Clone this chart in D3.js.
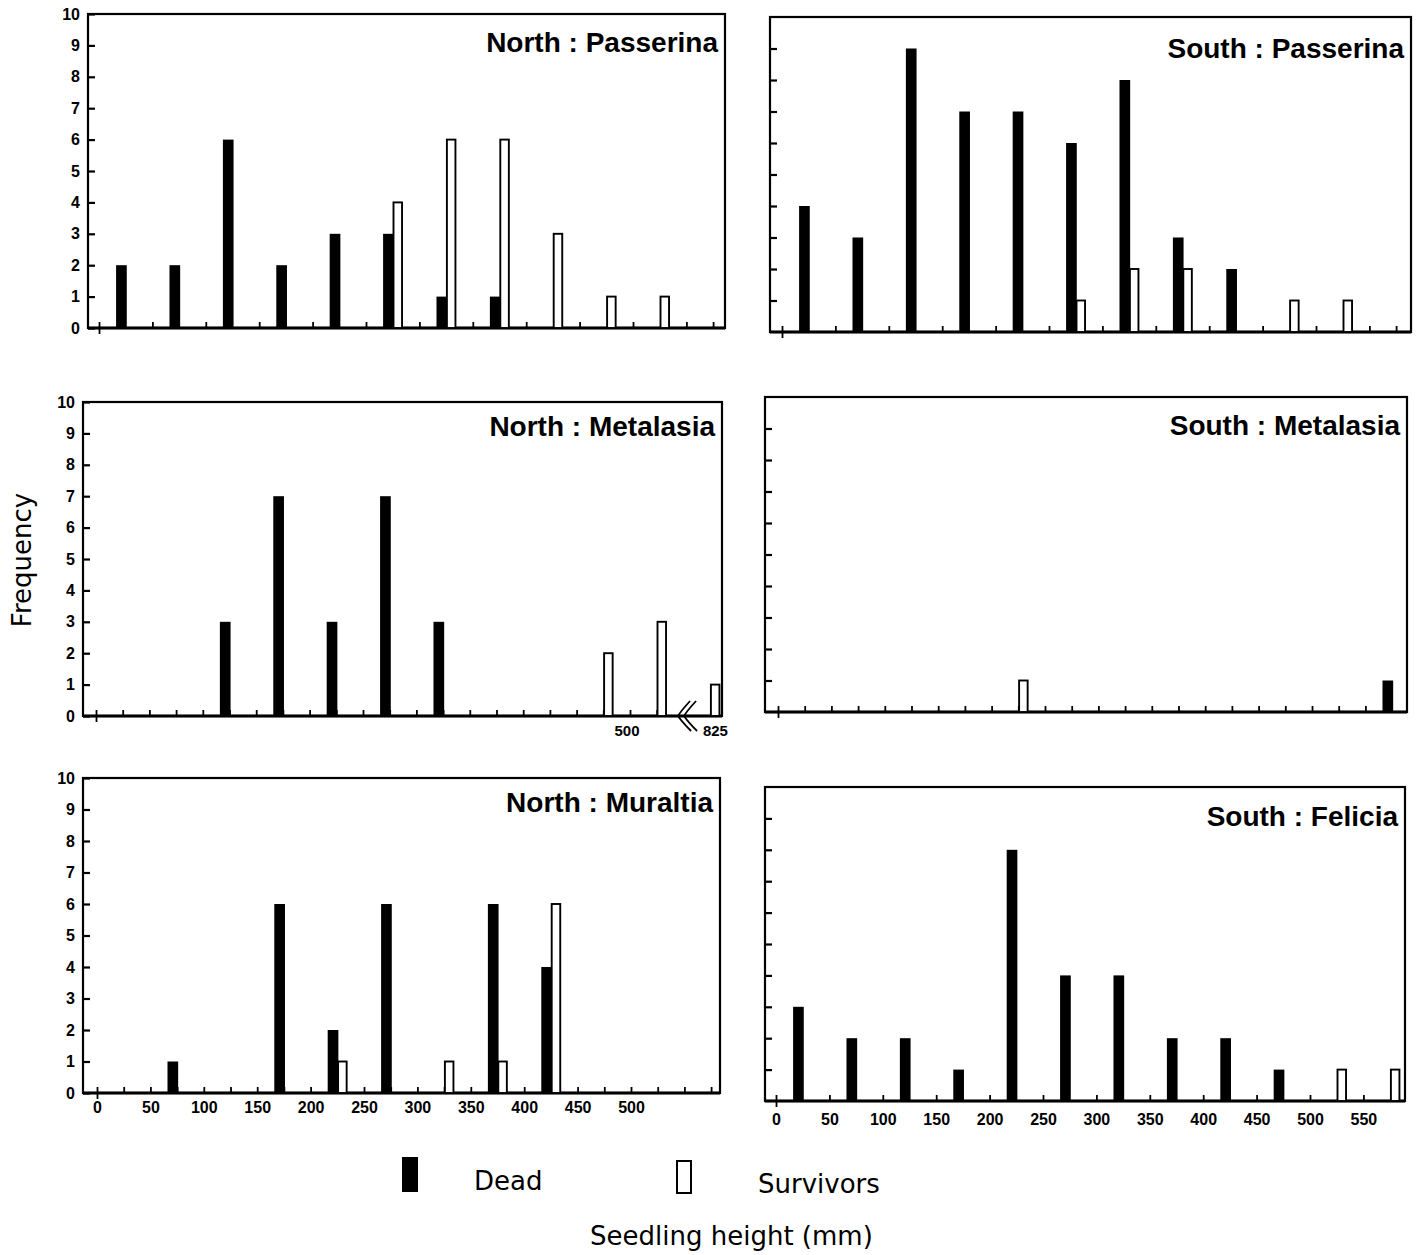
<!DOCTYPE html>
<html>
<head>
<meta charset="utf-8">
<script src="https://cdn.jsdelivr.net/npm/d3@7"></script>
<style>
  body { margin: 0; background: #fff; }
  svg { display: block; }
</style>
</head>
<body>
<svg id="chart" width="1417" height="1255"></svg>
<script>
////////// Data: frequency per 50 mm height class //////////
// class start (mm); in North : Metalasia the last class stands for the 825 mm outlier
const binStarts = [0, 50, 100, 150, 200, 250, 300, 350, 400, 450, 500, 550];
const yTicks = [0, 1, 2, 3, 4, 5, 6, 7, 8, 9, 10];

const titles = ["North : Passerina", "South : Passerina",
                "North : Metalasia", "South : Metalasia",
                "North : Muraltia",  "South : Felicia"];

const deadNorthPasserina = [2, 2, 6, 2, 3, 3, 1, 1, 0, 0, 0, 0];
const survNorthPasserina = [0, 0, 0, 0, 0, 4, 6, 6, 3, 1, 1, 0];

const deadSouthPasserina = [4, 3, 9, 7, 7, 6, 8, 3, 2, 0, 0, 0];
const survSouthPasserina = [0, 0, 0, 0, 0, 1, 2, 2, 0, 1, 1, 0];

const deadNorthMetalasia = [0, 0, 3, 7, 3, 7, 3, 0, 0, 0, 0, 0];
const survNorthMetalasia = [0, 0, 0, 0, 0, 0, 0, 0, 0, 2, 3, 1];

const deadSouthMetalasia = [0, 0, 0, 0, 0, 0, 0, 0, 0, 0, 0, 1];
const survSouthMetalasia = [0, 0, 0, 0, 1, 0, 0, 0, 0, 0, 0, 0];

const deadNorthMuraltia = [0, 1, 0, 6, 2, 6, 0, 6, 4, 0, 0, 0];
const survNorthMuraltia = [0, 0, 0, 0, 1, 0, 1, 1, 6, 0, 0, 0];

const deadSouthFelicia = [3, 2, 2, 1, 8, 4, 4, 2, 2, 1, 0, 0];
const survSouthFelicia = [0, 0, 0, 0, 0, 0, 0, 0, 0, 0, 1, 1];

const xLabelsMuraltia = [0, 50, 100, 150, 200, 250, 300, 350, 400, 450, 500];
const xLabelsFelicia  = [0, 50, 100, 150, 200, 250, 300, 350, 400, 450, 500, 550];
const outlierLabel = "825";

const legendLabels = ["Dead", "Survivors"];
const xTitle = "Seedling height (mm)";
const yTitle = "Frequency";

////////// Layout (pixels) //////////
const panels = [
  { title: titles[0], dead: deadNorthPasserina, surv: survNorthPasserina, left: 88,  top: 14,  right: 725,  base: 328,  x0: 99,  titleY: 52,  labels: true,
    xticks: d3.range(0, 551, 50).concat([575]) },
  { title: titles[1], dead: deadSouthPasserina, surv: survSouthPasserina, left: 770, top: 17,  right: 1411, base: 332,  x0: 782, titleY: 58,  labels: false,
    xticks: d3.range(0, 551, 50).concat([575]) },
  { title: titles[2], dead: deadNorthMetalasia, surv: survNorthMetalasia, left: 83,  top: 402, right: 722,  base: 716,  x0: 96,  titleY: 436, labels: true,
    xticks: d3.range(0, 526, 25), breakAxis: true },
  { title: titles[3], dead: deadSouthMetalasia, surv: survSouthMetalasia, left: 765, top: 397, right: 1407, base: 712,  x0: 778, titleY: 435, labels: false,
    xticks: d3.range(0, 551, 25) },
  { title: titles[4], dead: deadNorthMuraltia,  surv: survNorthMuraltia,  left: 83,  top: 778, right: 720,  base: 1093, x0: 97,  titleY: 812, labels: true,
    xticks: d3.range(0, 576, 25), xlabels: xLabelsMuraltia, pad: 9 },
  { title: titles[5], dead: deadSouthFelicia,   surv: survSouthFelicia,   left: 765, top: 787, right: 1405, base: 1101, x0: 776, titleY: 826, labels: false,
    xticks: d3.range(0, 551, 50), xlabels: xLabelsFelicia, pad: 13 }
];

const BIN_PX = 53.4;
const tickFont = "'Liberation Sans', Arial, sans-serif";
const textFont = "'DejaVu Sans', sans-serif";

const svg = d3.select("#chart");

panels.forEach(p => {
  const g = svg.append("g");

  const x = d3.scaleLinear().domain([0, 600]).range([p.x0, p.x0 + 12 * BIN_PX]);
  const y = d3.scaleLinear().domain([0, 10]).range([p.base, p.top]);
  const bw = x(50) - x(0);

  // y axis, ticks pointing inward
  const yAxis = d3.axisLeft(y)
    .tickValues(p.labels ? yTicks : yTicks.slice(1, 10))
    .tickSizeInner(-7).tickSizeOuter(0).tickPadding(8)
    .tickFormat(p.labels ? d3.format("d") : () => "");
  const ya = g.append("g").attr("transform", `translate(${p.left},0)`).call(yAxis);
  ya.select(".domain").remove();
  ya.selectAll("line").attr("stroke", "#000").attr("stroke-width", 2.2);
  ya.selectAll("text").attr("font-family", tickFont).attr("font-weight", "bold")
    .attr("font-size", 16).attr("fill", "#000");

  // x axis, ticks pointing inward
  const xAxis = d3.axisBottom(x)
    .tickValues(p.xticks)
    .tickSizeInner(-6).tickSizeOuter(0).tickPadding(p.pad || 8)
    .tickFormat(d => (p.xlabels && p.xlabels.includes(d)) ? d : "");
  const xa = g.append("g").attr("transform", `translate(0,${p.base})`).call(xAxis);
  xa.select(".domain").remove();
  xa.selectAll("line").attr("stroke", "#000").attr("stroke-width", 1.8);
  xa.selectAll(".tick").filter(d => d === 0).select("line").attr("y1", 6);
  xa.selectAll("text").attr("font-family", tickFont).attr("font-weight", "bold")
    .attr("font-size", 16).attr("fill", "#000");

  // frame
  g.append("rect")
    .attr("x", p.left).attr("y", p.top)
    .attr("width", p.right - p.left).attr("height", p.base - p.top)
    .attr("fill", "none").attr("stroke", "#000").attr("stroke-width", 2.2);
  g.append("line")
    .attr("x1", p.left).attr("x2", p.right)
    .attr("y1", p.base).attr("y2", p.base)
    .attr("stroke", "#000").attr("stroke-width", 2.8);

  // dead bars (filled)
  g.append("g").selectAll("rect")
    .data(binStarts.map((b, i) => ({ b, v: p.dead[i] })).filter(d => d.v > 0))
    .join("rect")
    .attr("x", d => x(d.b) + 0.32 * bw)
    .attr("width", 0.2 * bw)
    .attr("y", d => y(d.v))
    .attr("height", d => p.base - y(d.v))
    .attr("fill", "#000");

  // survivor bars (open)
  g.append("g").selectAll("rect")
    .data(binStarts.map((b, i) => ({ b, v: p.surv[i] })).filter(d => d.v > 0))
    .join("rect")
    .attr("x", d => x(d.b) + 0.515 * bw)
    .attr("width", 0.16 * bw)
    .attr("y", d => y(d.v))
    .attr("height", d => p.base - y(d.v))
    .attr("fill", "#fff").attr("stroke", "#000").attr("stroke-width", 1.9);

  // title
  g.append("text")
    .attr("x", p.right - 7).attr("y", p.titleY)
    .attr("text-anchor", "end")
    .attr("font-family", tickFont).attr("font-weight", "bold").attr("font-size", 28)
    .text(p.title);

  // axis break and the 500 / 825 labels
  if (p.breakAxis) {
    const bx = x(545);
    g.append("path")
      .attr("d", `M${bx + 12},${p.base - 15} Q${bx + 2},${p.base - 4} ${bx},${p.base} Q${bx + 4},${p.base + 6} ${bx + 13},${p.base + 15}` +
                 `M${bx + 18},${p.base - 15} Q${bx + 8},${p.base - 4} ${bx + 6},${p.base} Q${bx + 10},${p.base + 6} ${bx + 19},${p.base + 15}`)
      .attr("fill", "none").attr("stroke", "#000").attr("stroke-width", 1.8);
    g.append("text")
      .attr("x", x(500) - 3).attr("y", p.base + 20)
      .attr("text-anchor", "middle")
      .attr("font-family", tickFont).attr("font-weight", "bold").attr("font-size", 15)
      .text("500");
    g.append("text")
      .attr("x", x(binStarts[11]) + 0.6 * bw).attr("y", p.base + 20)
      .attr("text-anchor", "middle")
      .attr("font-family", tickFont).attr("font-weight", "bold").attr("font-size", 15)
      .text(outlierLabel);
  }
});

////////// Legend and axis titles //////////
svg.append("rect").attr("x", 402).attr("y", 1157).attr("width", 16).attr("height", 35).attr("fill", "#000");
svg.append("rect").attr("x", 677).attr("y", 1161).attr("width", 14).attr("height", 32)
  .attr("fill", "#fff").attr("stroke", "#000").attr("stroke-width", 2);

svg.append("text").attr("x", 474).attr("y", 1190)
  .attr("font-family", textFont).attr("font-size", 26).text(legendLabels[0]);
svg.append("text").attr("x", 758).attr("y", 1193)
  .attr("font-family", textFont).attr("font-size", 26).text(legendLabels[1]);

svg.append("text").attr("x", 590).attr("y", 1245)
  .attr("font-family", textFont).attr("font-size", 26).text(xTitle);

svg.append("text")
  .attr("transform", "translate(31,560) rotate(-90)")
  .attr("text-anchor", "middle")
  .attr("font-family", textFont).attr("font-size", 26).text(yTitle);
</script>
</body>
</html>
